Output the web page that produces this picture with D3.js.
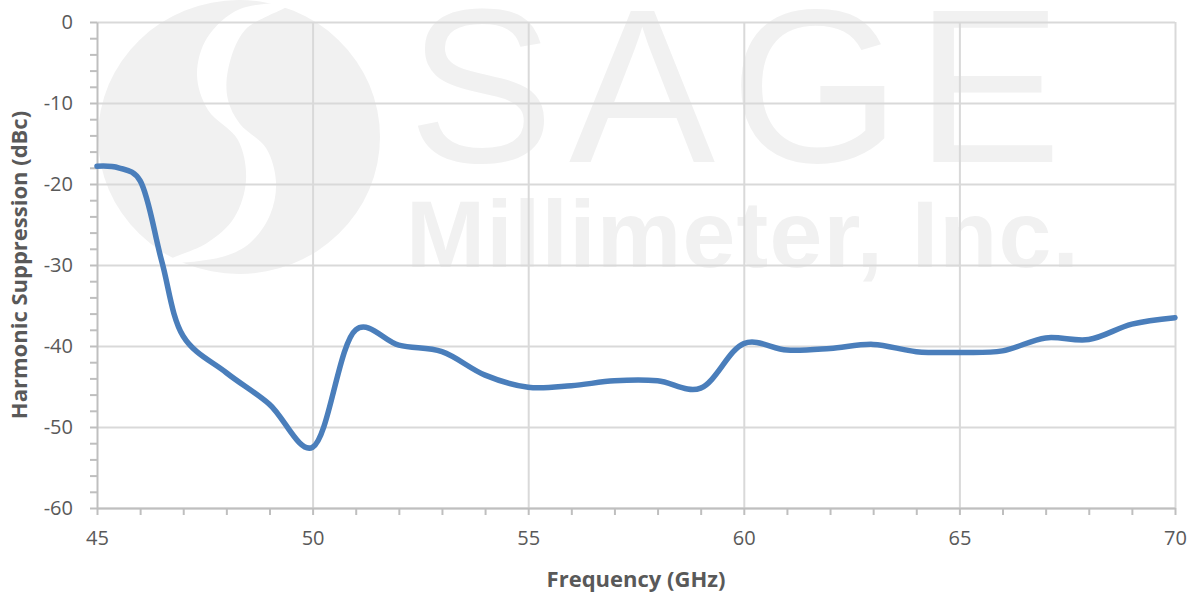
<!DOCTYPE html>
<html>
<head>
<meta charset="utf-8">
<script src="https://cdn.jsdelivr.net/npm/d3@7"></script>
<style>
  body { margin: 0; background: #fff; }
  svg { display: block; }
</style>
</head>
<body>
<svg id="chart" width="1193" height="592"></svg>
<script>
// Data
var freq = [45, 45.5, 46, 46.5, 47, 48, 49, 50, 51, 52, 53, 54, 55, 56, 57, 58, 59, 60, 61, 62, 63, 64, 65, 66, 67, 68, 69, 70];
var suppression = [-17.8, -18.0, -19.6, -29.5, -38.8, -43.3, -47.2, -52.5, -38.0, -39.9, -40.7, -43.6, -45.1, -44.9, -44.3, -44.3, -45.2, -39.7, -40.5, -40.3, -39.8, -40.7, -40.8, -40.6, -39.0, -39.2, -37.3, -36.5];
var xTicks = [45, 50, 55, 60, 65, 70];
var yTicks = [0, -10, -20, -30, -40, -50, -60];
var xMinor = d3.range(45, 71, 1);
var yMinor = d3.range(0, -61, -2);

var svg = d3.select("#chart"),
    margin = { left: 97, right: 18, top: 22, bottom: 84 },
    width = +svg.attr("width") - margin.left - margin.right,
    height = +svg.attr("height") - margin.top - margin.bottom;

var x = d3.scaleLinear().domain([45, 70]).range([0, width]);
var y = d3.scaleLinear().domain([-60, 0]).range([height, 0]);

// plain hyphen minus, like the original
var fmt = function (d) { return String(d); };

// watermark (logo + company name), sits behind the grid
var wm = svg.append("g").attr("fill", "#f1f1f1");
wm.append("ellipse").attr("cx", 239).attr("cy", 137).attr("rx", 141).attr("ry", 137);
var sBand = [[288, 5], [240, 9], [207, 38], [197, 75], [208, 110], [238, 140], [246, 180], [234, 218], [207, 243], [165, 262],
             [222, 257], [250, 243], [270, 215], [276, 182], [266, 148], [240, 124], [228, 100], [228, 70], [245, 30]];
wm.append("path")
    .attr("d", d3.line().curve(d3.curveCatmullRomClosed)(sBand))
    .attr("fill", "#fff");
wm.append("text")
    .attr("x", 408).attr("y", 162)
    .attr("font-family", "Liberation Sans, Arial, sans-serif")
    .attr("font-size", 219)
    .attr("letter-spacing", 15)
    .text("SAGE");
wm.append("text")
    .attr("x", 406).attr("y", 267)
    .attr("font-family", "Liberation Sans, Arial, sans-serif")
    .attr("font-weight", "bold")
    .attr("font-size", 95)
    .attr("textLength", 673)
    .attr("lengthAdjust", "spacing")
    .text("Millimeter, Inc.");

var g = svg.append("g").attr("transform", "translate(" + margin.left + "," + margin.top + ")");

// gridlines
g.append("g")
    .attr("class", "grid")
    .call(d3.axisLeft(y).tickValues(yTicks).tickSize(-width).tickFormat(""))
    .call(function (s) { s.select(".domain").remove(); })
    .selectAll("line").attr("stroke", "#d9d9d9").attr("stroke-width", 2);
g.append("g")
    .attr("class", "grid")
    .attr("transform", "translate(0," + height + ")")
    .call(d3.axisBottom(x).tickValues(xTicks.slice(1)).tickSize(-height).tickFormat(""))
    .call(function (s) { s.select(".domain").remove(); })
    .selectAll("line").attr("stroke", "#d9d9d9").attr("stroke-width", 2);

// minor ticks
g.append("g")
    .call(d3.axisLeft(y).tickValues(yMinor).tickSize(7).tickSizeOuter(0).tickFormat(""))
    .call(function (s) {
        s.select(".domain").attr("stroke", "#bfbfbf").attr("stroke-width", 2);
        s.selectAll("line").attr("stroke", "#bfbfbf").attr("stroke-width", 2);
    });
g.append("g")
    .attr("transform", "translate(0," + height + ")")
    .call(d3.axisBottom(x).tickValues(xMinor).tickSize(7).tickSizeOuter(0).tickFormat(""))
    .call(function (s) {
        s.select(".domain").attr("stroke", "#bfbfbf").attr("stroke-width", 2);
        s.selectAll("line").attr("stroke", "#bfbfbf").attr("stroke-width", 2);
    });

// tick labels
var yAxis = g.append("g")
    .call(d3.axisLeft(y).tickValues(yTicks).tickSize(0).tickPadding(24).tickFormat(fmt));
var xAxis = g.append("g")
    .attr("transform", "translate(0," + height + ")")
    .call(d3.axisBottom(x).tickValues(xTicks).tickSize(0).tickPadding(23).tickFormat(fmt));
[yAxis, xAxis].forEach(function (a) {
    a.select(".domain").remove();
    a.selectAll("text")
        .attr("fill", "#595959")
        .style("font-family", "Open Sans, sans-serif")
        .style("font-size", "20px");
});

// the curve (Excel-style smoothing)
var line = d3.line()
    .x(function (d, i) { return x(freq[i]); })
    .y(function (d) { return y(d); })
    .curve(d3.curveCatmullRom.alpha(0.25));

g.append("path")
    .datum(suppression)
    .attr("d", line)
    .attr("fill", "none")
    .attr("stroke", "#4a7ebb")
    .attr("stroke-width", 5.5)
    .attr("stroke-linecap", "round")
    .attr("stroke-linejoin", "round");

// axis titles
svg.append("text")
    .attr("x", margin.left + width / 2)
    .attr("y", 587)
    .attr("text-anchor", "middle")
    .attr("fill", "#595959")
    .style("font-family", "Open Sans, sans-serif")
    .style("font-weight", "bold")
    .style("font-size", "22px")
    .text("Frequency (GHz)");

svg.append("text")
    .attr("transform", "translate(27," + (margin.top + height / 2) + ") rotate(-90)")
    .attr("text-anchor", "middle")
    .attr("fill", "#595959")
    .style("font-family", "Open Sans, sans-serif")
    .style("font-weight", "bold")
    .style("font-size", "22px")
    .text("Harmonic Suppression (dBc)");
</script>
</body>
</html>
